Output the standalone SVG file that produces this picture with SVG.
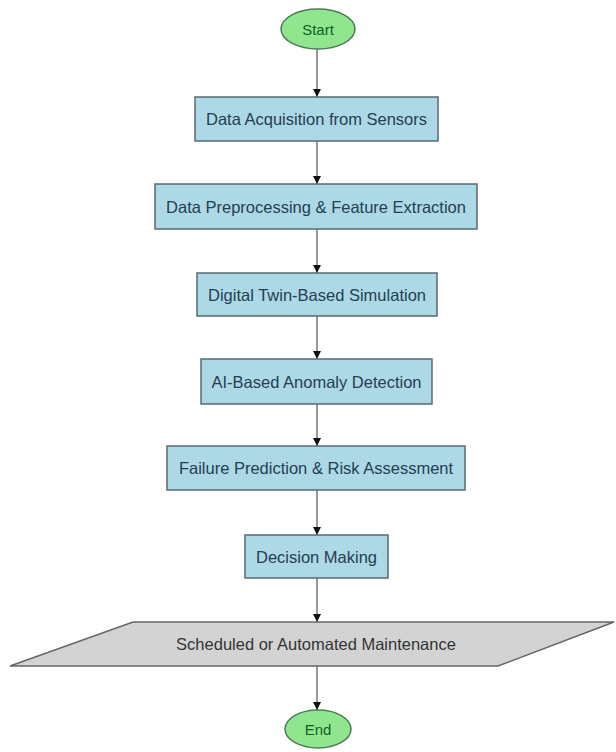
<svg xmlns="http://www.w3.org/2000/svg" width="616" height="752" viewBox="0 0 616 752">
<defs>
<marker id="arr" markerWidth="8" markerHeight="8" refX="8" refY="4" orient="auto" markerUnits="userSpaceOnUse">
<path d="M0,0 L8,4 L0,8 Z" fill="#111"/>
</marker>
<style>
.box{fill:#add8e6;stroke:#5a6a70;stroke-width:1.5}
.term{fill:#8fe68f;stroke:#4f7a5a;stroke-width:1.5}
.io{fill:#d3d3d3;stroke:#666;stroke-width:1.5}
.t{font-family:"Liberation Sans",Arial,sans-serif;font-size:16.5px;text-anchor:middle;dominant-baseline:central;fill:#243f52}
.tt{font-family:"Liberation Sans",Arial,sans-serif;font-size:15px;text-anchor:middle;dominant-baseline:central;fill:#155d1f}
.ti{font-family:"Liberation Sans",Arial,sans-serif;font-size:16.5px;text-anchor:middle;dominant-baseline:central;fill:#333}
.c{stroke:#999;stroke-width:2;fill:none;marker-end:url(#arr)}
</style>
</defs>
<rect width="616" height="752" fill="#fff"/>
<g id="connectors">
<line class="c" x1="317" y1="49" x2="317" y2="97"/>
<line class="c" x1="317" y1="141" x2="317" y2="184"/>
<line class="c" x1="317" y1="229" x2="317" y2="273"/>
<line class="c" x1="317" y1="316" x2="317" y2="359"/>
<line class="c" x1="317" y1="404" x2="317" y2="446"/>
<line class="c" x1="317" y1="490" x2="317" y2="535"/>
<line class="c" x1="317" y1="578" x2="317" y2="622"/>
<line class="c" x1="317" y1="666" x2="317" y2="710"/>
</g>
<g id="start"><ellipse class="term" cx="318" cy="29" rx="37" ry="20"/><text class="tt" x="318" y="29">Start</text></g>
<g id="n1"><rect class="box" x="195" y="97" width="243" height="44"/><text class="t" x="316.5" y="119">Data Acquisition from Sensors</text></g>
<g id="n2"><rect class="box" x="155" y="184" width="322" height="45"/><text class="t" x="316" y="206.5">Data Preprocessing &amp; Feature Extraction</text></g>
<g id="n3"><rect class="box" x="197" y="273" width="240" height="43"/><text class="t" x="317" y="294.5">Digital Twin-Based Simulation</text></g>
<g id="n4"><rect class="box" x="201" y="359" width="231" height="45"/><text class="t" x="316.5" y="381.5">AI-Based Anomaly Detection</text></g>
<g id="n5"><rect class="box" x="167" y="446" width="298" height="44"/><text class="t" x="316" y="468">Failure Prediction &amp; Risk Assessment</text></g>
<g id="n6"><rect class="box" x="245" y="535" width="143" height="43"/><text class="t" x="316.5" y="556.5">Decision Making</text></g>
<g id="n7"><polygon class="io" points="133,622 614,622 498,666 10,666"/><text class="ti" x="316" y="644">Scheduled or Automated Maintenance</text></g>
<g id="end"><ellipse class="term" cx="318" cy="729" rx="33" ry="19"/><text class="tt" x="318" y="729">End</text></g>
</svg>
